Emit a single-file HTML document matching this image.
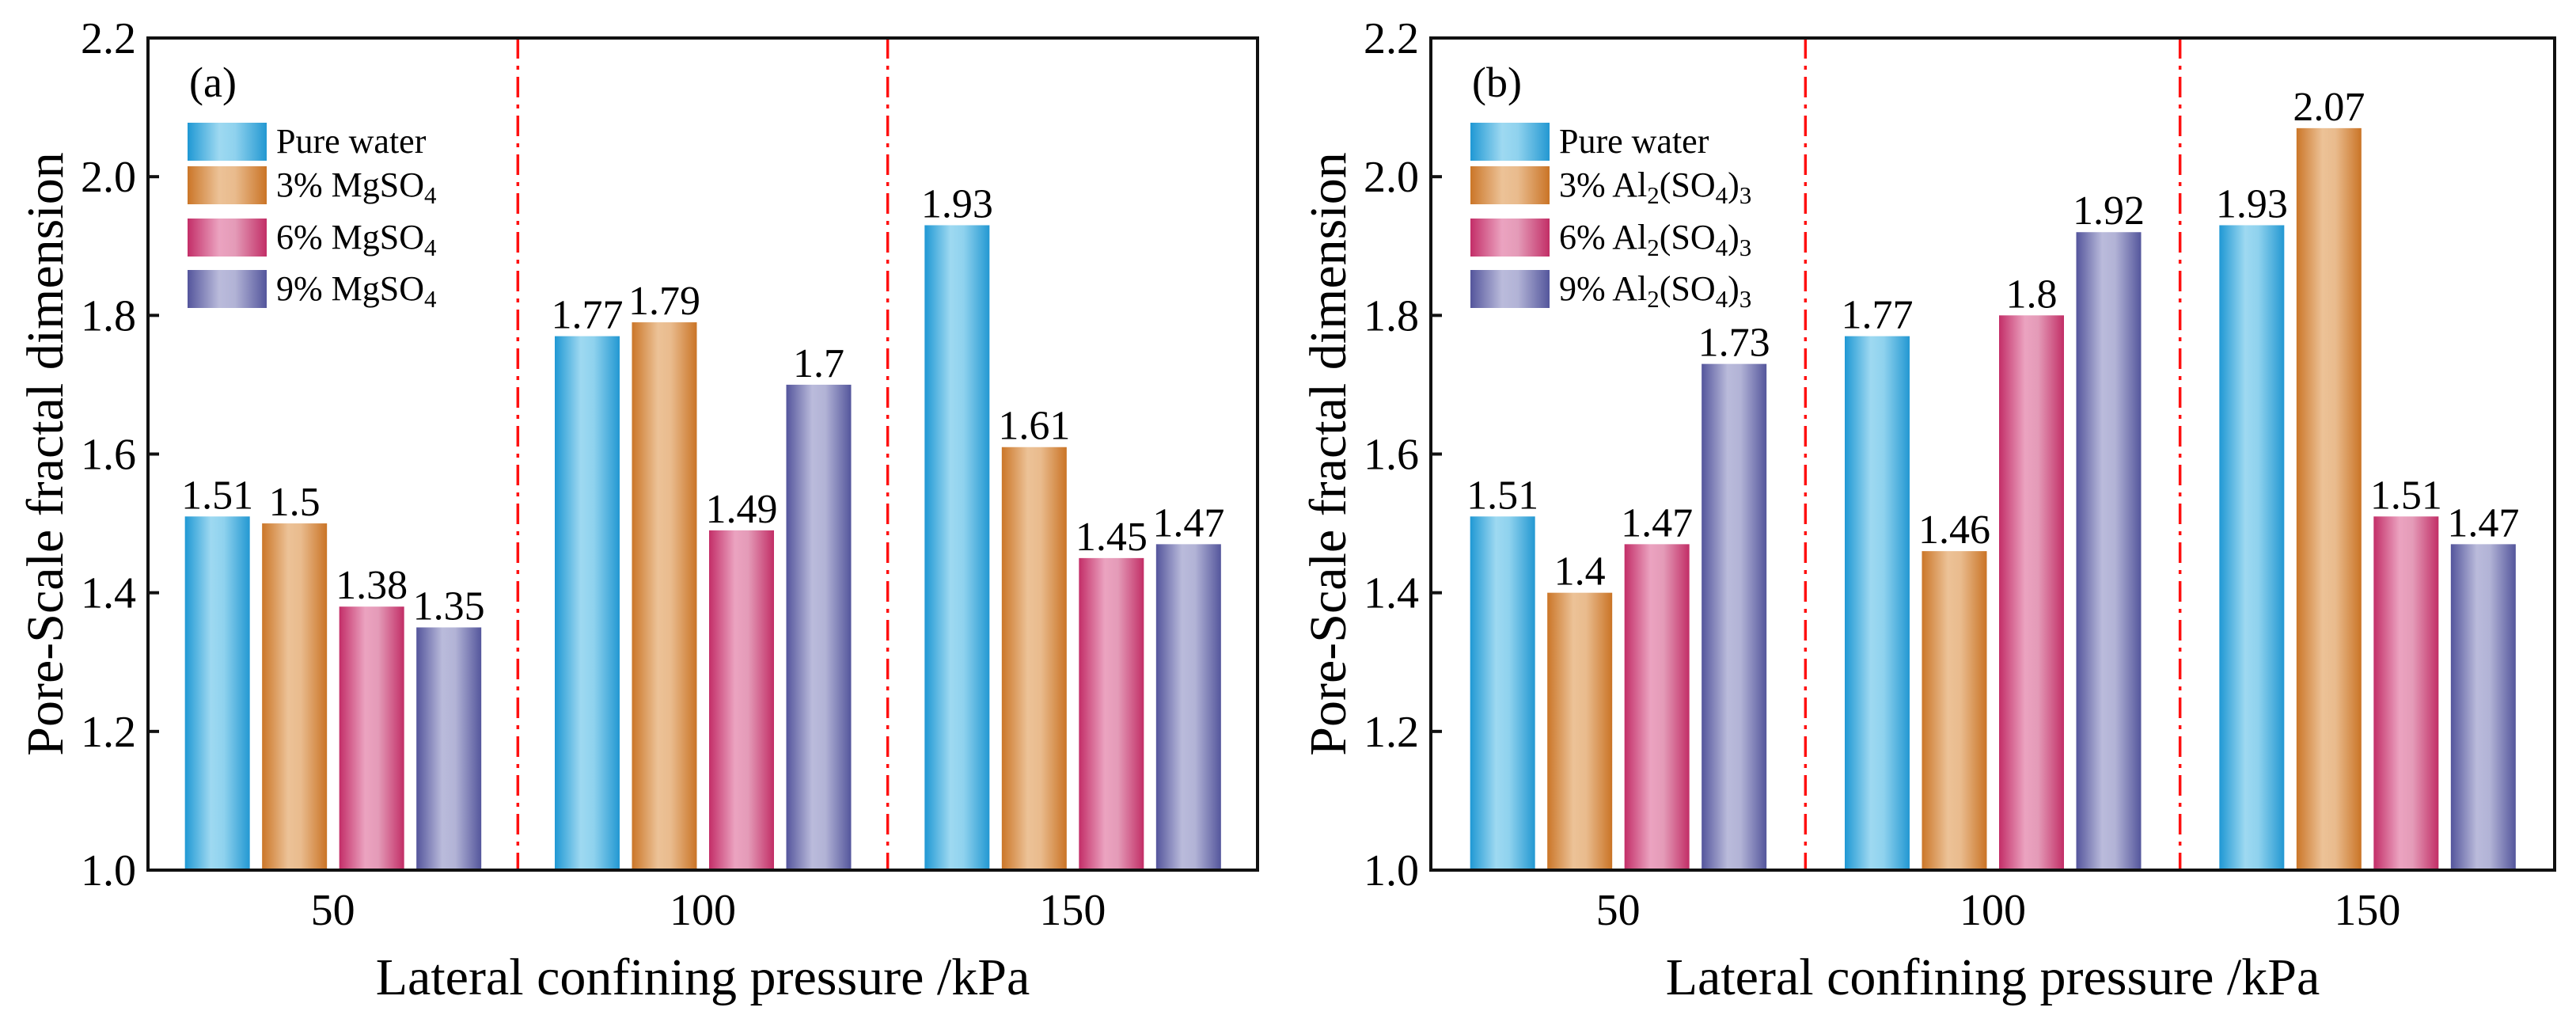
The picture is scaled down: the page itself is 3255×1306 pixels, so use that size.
<!DOCTYPE html>
<html><head><meta charset="utf-8"><style>
html,body{margin:0;padding:0;background:#fff;}
svg{display:block;font-family:"Liberation Serif",serif;}
</style></head><body>
<svg id="chart" width="3255" height="1306" viewBox="0 0 3255 1306">
<defs>
<linearGradient id="g0" x1="0" x2="1"><stop offset="0" stop-color="#1f98d4"/><stop offset="0.4" stop-color="#9ed9f1"/><stop offset="0.6" stop-color="#8fd2ee"/><stop offset="1" stop-color="#2398d2"/></linearGradient>
<linearGradient id="g1" x1="0" x2="1"><stop offset="0" stop-color="#cb7628"/><stop offset="0.4" stop-color="#ecc297"/><stop offset="0.6" stop-color="#e9bb8d"/><stop offset="1" stop-color="#ca7426"/></linearGradient>
<linearGradient id="g2" x1="0" x2="1"><stop offset="0" stop-color="#c32e68"/><stop offset="0.4" stop-color="#eba3c0"/><stop offset="0.6" stop-color="#e49bb8"/><stop offset="1" stop-color="#c22e66"/></linearGradient>
<linearGradient id="g3" x1="0" x2="1"><stop offset="0" stop-color="#54559c"/><stop offset="0.4" stop-color="#babbdb"/><stop offset="0.6" stop-color="#b2b3d6"/><stop offset="1" stop-color="#54569c"/></linearGradient>
</defs>
</svg>
<script>
const categories = ["50", "100", "150"];
const seriesA_pure = [1.51, 1.77, 1.93];
const seriesA_3 = [1.5, 1.79, 1.61];
const seriesA_6 = [1.38, 1.49, 1.45];
const seriesA_9 = [1.35, 1.7, 1.47];
const seriesB_pure = [1.51, 1.77, 1.93];
const seriesB_3 = [1.4, 1.46, 2.07];
const seriesB_6 = [1.47, 1.8, 1.51];
const seriesB_9 = [1.73, 1.92, 1.47];
const labelsA = ["1.51","1.5","1.38","1.35","1.77","1.79","1.49","1.7","1.93","1.61","1.45","1.47"];
const labelsB = ["1.51","1.4","1.47","1.73","1.77","1.46","1.8","1.92","1.93","2.07","1.51","1.47"];
const yTicks = [1.0, 1.2, 1.4, 1.6, 1.8, 2.0, 2.2];
const yTickLabels = ["1.0","1.2","1.4","1.6","1.8","2.0","2.2"];

const NS = "http://www.w3.org/2000/svg";
const svg = document.getElementById("chart");
function mk(tag, attrs, parent){const e=document.createElementNS(NS,tag);for(const k in attrs)e.setAttribute(k,attrs[k]);(parent||svg).appendChild(e);return e;}

function panel(pid, x0, x1, series, labels, legendNames, tag){
  const y0 = 48, yb = 1099;
  const g = mk("g", {});
  
  
  const yS = v => yb - (v - 1.0) / 1.2 * (yb - y0);
  const gw = (x1 - x0) / categories.length;
  const xC = i => x0 + gw * (i + 0.5);
  const bw = 82, pitch = 97.5;
  let li = 0;
  for (let i = 0; i < categories.length; i++) {
    for (let s = 0; s < 4; s++) {
      const v = series[s][i];
      const bx = xC(i) + (s - 2) * pitch + 8;
      const r = mk("rect", {x: bx, y: yS(v), width: bw, height: yb - yS(v), fill: "url(#g" + s + ")"}, g);
      
      
      const t = mk("text", {x: bx + bw / 2, y: yS(v) - 10, "font-size": 52, "text-anchor": "middle", fill: "#000"}, g);
      t.textContent = labels[li++];
      
      
    }
    const ct = mk("text", {x: xC(i), y: 1168, "font-size": 56, "text-anchor": "middle"}, g);
    ct.textContent = categories[i];
    
    
  }
  for (let i = 1; i < categories.length; i++) {
    const d = mk("line", {x1: x0 + gw * i, x2: x0 + gw * i, y1: y0, y2: yb, stroke: "#ff1010", "stroke-width": 3.5, "stroke-dasharray": "26 9 5 9"}, g);
    
    
  }
  const f = mk("rect", {x: x0, y: y0, width: x1 - x0, height: yb - y0, fill: "none", stroke: "#111", "stroke-width": 4}, g);
  
  
  yTicks.forEach((v, k) => {
    const tk = mk("line", {x1: x0, x2: x0 + 14, y1: yS(v), y2: yS(v), stroke: "#111", "stroke-width": 4}, g);
    
    
    const tl = mk("text", {x: x0 - 15, y: yS(v) + 19, "font-size": 56, "text-anchor": "end"}, g);
    tl.textContent = yTickLabels[k];
    
    
  });
  const yt = mk("text", {x: 0, y: 0, "font-size": 66, "text-anchor": "middle", transform: "translate(" + (x0 - 108) + "," + ((y0 + yb) / 2) + ") rotate(-90)"}, g);
  yt.textContent = "Pore-Scale fractal dimension";
  
  
  const xt = mk("text", {x: (x0 + x1) / 2, y: 1256, "font-size": 66, "text-anchor": "middle"}, g);
  xt.textContent = "Lateral confining pressure /kPa";
  
  
  const pt = mk("text", {x: x0 + 52, y: 122, "font-size": 54}, g);
  pt.textContent = tag;
  
  
  const ly = [155, 210, 276, 341];
  for (let s = 0; s < 4; s++) {
    const lg = mk("g", {}, g);
    
    
    mk("rect", {x: x0 + 50, y: ly[s], width: 100, height: 48, fill: "url(#g" + s + ")"}, lg);
    const lt = mk("text", {x: x0 + 162, y: ly[s] + 38, "font-size": 44}, lg);
    lt.innerHTML = legendNames[s];
  }
}
const sub = (t) => '<tspan baseline-shift="-30%" font-size="31">' + t + '</tspan>';
panel("a", 187, 1589, [seriesA_pure, seriesA_3, seriesA_6, seriesA_9], labelsA,
  ["Pure water", "3% MgSO" + sub("4"), "6% MgSO" + sub("4"), "9% MgSO" + sub("4")], "(a)");
const al = (p) => p + "% Al" + sub("2") + "(SO" + sub("4") + ")" + sub("3");
panel("b", 1808, 3228, [seriesB_pure, seriesB_3, seriesB_6, seriesB_9], labelsB,
  ["Pure water", al("3"), al("6"), al("9")], "(b)");
</script>
</body></html>
